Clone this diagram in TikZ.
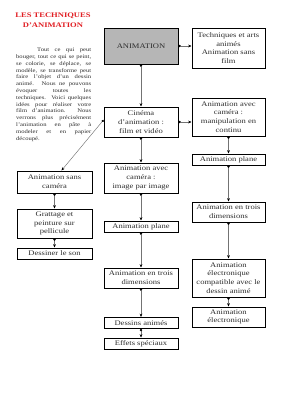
\documentclass[tikz,border=0pt]{standalone}
\usepackage{fontspec}
\setmainfont{Liberation Serif}
\newfontfamily\boxfont[FakeStretch=1.22]{Liberation Serif}
\usetikzlibrary{arrows.meta,calc}
\definecolor{titlered}{RGB}{225,30,35}
\definecolor{boxgray}{RGB}{182,182,182}
\definecolor{txtgray}{RGB}{45,45,45}
\begin{document}
\begin{tikzpicture}[x=1pt,y=-1pt,
  bx/.style={draw=black, line width=1pt, fill=white, inner sep=0pt, align=center,
    text=txtgray, font=\boxfont\fontsize{7}{8.6}\selectfont},
  midc/.style={bx, minimum width=74pt},
  rgtc/.style={bx, minimum width=73pt},
  lftc/.style={bx, minimum width=75pt},
  conn/.style={draw=black!55, line width=0.45pt,
    arrows={Circle[color=black,length=2.4pt]-Stealth[color=black,length=3.4pt,width=2.8pt]}}
]
\useasboundingbox (0,0) rectangle (283,400);
\fill[white] (0,0) rectangle (283,400);

% title and paragraph
\node[align=center, text=titlered, font=\boxfont\bfseries\fontsize{7}{10}\selectfont] (title) at (53,20) {LES TECHNIQUES\\D’ANIMATION};
\node[anchor=north west, inner sep=0pt, text width=75pt, align=justify, text=txtgray,
  font=\boxfont\fontsize{5.4}{6.8}\selectfont] (para) at (16,48)
{\hspace*{21pt}Tout ce qui peut\linebreak
bouger, tout ce qui se peint,\linebreak
se colorie, se déplace, se\linebreak
modèle, se transforme peut\linebreak
faire l’objet d’un dessin\linebreak
animé. Nous ne pouvons\linebreak
évoquer toutes les\linebreak
techniques. Voici quelques\linebreak
idées pour réaliser votre\linebreak
film d’animation. Nous\linebreak
verrons plus précisément\linebreak
l’animation en pâte à\linebreak
modeler et en papier\linebreak
découpé.};

% middle column
\node[midc, fill=boxgray, minimum height=36pt] (anim) at (141,46) {ANIMATION};
\node[midc, minimum height=30pt] (cine) at (141,122) {Cinéma\\d’animation :\\film et vidéo};
\node[midc, minimum height=30pt] (img) at (141,178) {Animation avec\\caméra :\\image par image};
\node[midc, minimum height=11pt] (plane1) at (141,226.5) {Animation plane};
\node[midc, minimum height=20pt] (trois1) at (141,278) {Animation en trois\\dimensions};
\node[midc, minimum height=11pt] (dessins) at (141,323) {Dessins animés};
\node[midc, minimum height=11pt] (effets) at (141,343.5) {Effets spéciaux};

% right column
\node[rgtc, minimum height=40pt] (tech) at (228.5,48) {Techniques et arts\\animés\\Animation sans\\film};
\node[rgtc, minimum height=38pt] (manip) at (228.5,117) {Animation avec\\caméra :\\manipulation en\\continu};
\node[rgtc, minimum height=11pt] (plane2) at (228.5,159.5) {Animation plane};
\node[rgtc, minimum height=20pt] (trois2) at (228.5,212) {Animation en trois\\dimensions};
\node[rgtc, minimum height=38pt] (compat) at (228.5,278) {Animation\\électronique\\compatible avec le\\dessin animé};
\node[rgtc, minimum height=20pt] (elec) at (228.5,317) {Animation\\électronique};

% left column
\node[lftc, minimum height=22pt] (sans) at (54.5,182) {Animation sans\\caméra};
\node[lftc, minimum height=29pt] (gratt) at (54.5,223.5) {Grattage et\\peinture sur\\pellicule};
\node[lftc, minimum height=11pt] (son) at (54.5,253.5) {Dessiner le son};

% connectors
\draw[conn] (anim.east) -- (anim.east -| tech.west);
\draw[conn] (anim.south) -- (cine.north);
\draw[conn] (cine.east) -- (cine.east -| manip.west);
\draw[conn] ([yshift=2pt]cine.west) -- ([xshift=7pt]sans.north);
\draw[conn] (cine.south) -- (img.north);
\draw[conn] (img.south) -- (plane1.north);
\draw[conn] (plane1.south) -- (trois1.north);
\draw[conn] (trois1.south) -- (dessins.north);
\draw[conn] (dessins.south) -- (effets.north);
\draw[conn] (manip.south) -- (plane2.north);
\draw[conn] (plane2.south) -- (trois2.north);
\draw[conn] (trois2.south) -- (compat.north);
\draw[conn] (compat.south) -- (elec.north);
\draw[conn] (sans.south) -- (gratt.north);
\draw[conn] (gratt.south) -- (son.north);
\end{tikzpicture}
\end{document}
